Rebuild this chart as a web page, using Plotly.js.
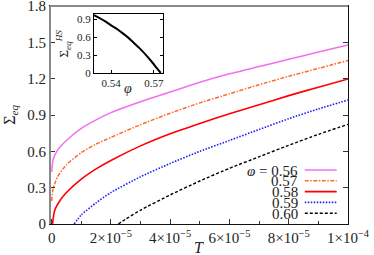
<!DOCTYPE html>
<html><head><meta charset="utf-8">
<script src="https://cdn.plot.ly/plotly-3.0.1.min.js"></script>
<style>html,body{margin:0;padding:0;background:#fff}#chart{width:374px;height:255px}</style>
</head><body><div id="chart"></div>
<script>
// ---- data ----
var phiLabels = ['<i>φ</i> = 0.56', '0.57', '0.58', '0.59', '0.60'];

var T056 = [0, 0.05e-5, 0.2e-5, 0.5e-5, 1e-5, 1.5e-5, 2e-5, 3e-5, 4e-5, 5e-5, 6e-5, 7e-5, 8e-5, 9e-5, 10e-5];
var S056 = [0.43, 0.53, 0.61, 0.69, 0.79, 0.86, 0.92, 1.01, 1.09, 1.17, 1.24, 1.30, 1.36, 1.42, 1.478];

var T057 = [0, 0.05e-5, 0.2e-5, 0.5e-5, 1e-5, 1.5e-5, 2e-5, 3e-5, 4e-5, 5e-5, 6e-5, 7e-5, 8e-5, 9e-5, 10e-5];
var S057 = [0.19, 0.29, 0.39, 0.49, 0.59, 0.66, 0.715, 0.82, 0.915, 1.00, 1.075, 1.15, 1.22, 1.285, 1.35];

var T058 = [0.03e-5, 0.1e-5, 0.3e-5, 0.5e-5, 1e-5, 1.5e-5, 2e-5, 3e-5, 4e-5, 5e-5, 6e-5, 7e-5, 8e-5, 9e-5, 10e-5];
var S058 = [0, 0.11, 0.20, 0.26, 0.37, 0.455, 0.525, 0.645, 0.745, 0.83, 0.91, 0.985, 1.06, 1.13, 1.197];

var T059 = [0.76e-5, 1e-5, 1.5e-5, 2e-5, 3e-5, 4e-5, 5e-5, 6e-5, 7e-5, 8e-5, 9e-5, 10e-5];
var S059 = [0, 0.075, 0.175, 0.26, 0.39, 0.50, 0.60, 0.69, 0.78, 0.87, 0.95, 1.024];

var T060 = [2.25e-5, 2.5e-5, 3e-5, 4e-5, 5e-5, 6e-5, 7e-5, 8e-5, 9e-5, 10e-5];
var S060 = [0, 0.04, 0.115, 0.24, 0.355, 0.46, 0.555, 0.65, 0.74, 0.823];

// inset: Sigma_eq^HS vs phi
var phiHS = [0.528, 0.532, 0.536, 0.540, 0.544, 0.548, 0.552, 0.556, 0.560, 0.564, 0.568, 0.572, 0.5747];
var sigHS = [0.965, 0.915, 0.86, 0.795, 0.735, 0.665, 0.59, 0.50, 0.41, 0.31, 0.20, 0.08, 0.0];

var xTickVals = [0, 2e-5, 4e-5, 6e-5, 8e-5, 1e-4];
var xTickText = ['0', '2×10<sup>−5</sup>', '4×10<sup>−5</sup>', '6×10<sup>−5</sup>', '8×10<sup>−5</sup>', '1×10<sup>−4</sup>'];
var yTickVals = [0, 0.3, 0.6, 0.9, 1.2, 1.5, 1.8];
var yTickText = ['0', '0.3', '0.6', '0.9', '1.2', '1.5', '1.8'];
var inXTickVals = [0.54, 0.57];
var inXTickText = ['0.54', '0.57'];
var inYTickVals = [0, 0.3, 0.6, 0.9];
var inYTickText = ['0', '0.3', '0.6', '0.9'];

// ---- styles ----
var colors = ['#f070f0', '#ff6a2a', '#ff0000', '#1a1aff', '#000000'];
var dashes = ['solid', '4px,1.5px,1.5px,1.5px', 'solid', '1.5px,1.5px', '3px,2px'];
var widths = [1.5, 1.5, 1.6, 1.6, 1.4];
var serif = "'Liberation Serif', 'Times New Roman', 'DejaVu Serif', serif";

var Ts = [T056, T057, T058, T059, T060];
var Ss = [S056, S057, S058, S059, S060];
var traces = [];
for (var i = 0; i < Ts.length; i++) {
  traces.push({x: Ts[i], y: Ss[i], type: 'scatter', mode: 'lines', xaxis: 'x', yaxis: 'y',
    line: {color: colors[i], dash: dashes[i], width: widths[i], shape: 'spline', smoothing: 0.6},
    showlegend: false, hoverinfo: 'skip'});
}
traces.push({x: phiHS, y: sigHS, type: 'scatter', mode: 'lines', xaxis: 'x2', yaxis: 'y2',
  line: {color: '#000', width: 2, shape: 'spline', smoothing: 0.6}, showlegend: false, hoverinfo: 'skip'});

// legend drawn manually (text left of line sample)
var legY = [0.2477, 0.1982, 0.1486, 0.0991, 0.0495];
var annotations = [], shapes = [];
for (var k = 0; k < phiLabels.length; k++) {
  annotations.push({xref: 'paper', yref: 'paper', x: 0.834, y: legY[k], xanchor: 'right', yanchor: 'middle',
    height: 11, borderpad: 0, valign: 'middle',
    text: phiLabels[k], showarrow: false, font: {family: serif, size: 15, color: '#222'}});
  shapes.push({type: 'line', xref: 'paper', yref: 'paper', x0: 0.855, x1: 0.962, y0: legY[k], y1: legY[k],
    line: {color: colors[k], width: widths[k], dash: dashes[k]}});
}
// axis titles placed as annotations
annotations.push({xref: 'paper', yref: 'paper', x: 0.5, y: -0.11, xanchor: 'center', yanchor: 'middle',
  height: 13, borderpad: 0, valign: 'middle',
  text: '<i>T</i>', showarrow: false, font: {family: serif, size: 16, color: '#222'}});
annotations.push({xref: 'paper', yref: 'paper', x: -0.135, y: 0.5, xanchor: 'center', yanchor: 'middle', textangle: -90,
  borderpad: 0,
  text: 'Σ<sub><i>eq</i></sub>', showarrow: false, font: {family: serif, size: 16, color: '#222'}});
annotations.push({xref: 'paper', yref: 'paper', x: 0.262, y: 0.62, xanchor: 'center', yanchor: 'middle',
  text: '<i>φ</i>', showarrow: false, font: {family: serif, size: 14, color: '#222'}});
annotations.push({xref: 'paper', yref: 'paper', x: 0.045, y: 0.83, xanchor: 'center', yanchor: 'middle', textangle: -90,
  text: 'Σ<sub><i>eq</i></sub><sup><i>HS</i></sup>', showarrow: false, font: {family: serif, size: 13, color: '#222'}});
// left and top frame lines appear grey in the reference
shapes.push({type: 'line', xref: 'paper', yref: 'paper', x0: 0, x1: 0, y0: 0, y1: 1, line: {color: '#8a8a8a', width: 2}});
shapes.push({type: 'line', xref: 'paper', yref: 'paper', x0: 0, x1: 1, y0: 1, y1: 1, line: {color: '#8a8a8a', width: 2}});

var layout = {
  width: 374, height: 255,
  margin: {l: 50, r: 26, t: 6, b: 31},
  paper_bgcolor: '#fff', plot_bgcolor: '#fff',
  font: {family: serif, color: '#222'},
  xaxis: {range: [-0.55e-6, 1e-4], domain: [0, 1], showgrid: false, zeroline: false,
    showline: true, linecolor: '#111', linewidth: 1, mirror: true, automargin: false,
    ticks: 'inside', ticklen: 5, tickcolor: '#333', tickvals: xTickVals, ticktext: xTickText,
    ticklabeloverflow: 'allow',
    minor: {ticks: 'inside', ticklen: 3, tickcolor: '#333', dtick: 1e-5, tick0: 1e-5, showgrid: false},
    tickfont: {family: serif, size: 15, color: '#222'}},
  yaxis: {range: [0, 1.8001], domain: [0, 1], showgrid: false, zeroline: false,
    showline: true, linecolor: '#111', linewidth: 1, mirror: 'ticks', automargin: false,
    ticks: 'inside', ticklen: 5, tickcolor: '#333', tickvals: yTickVals, ticktext: yTickText,
    ticklabeloverflow: 'allow',
    tickfont: {family: serif, size: 15, color: '#222'}},
  xaxis2: {anchor: 'y2', domain: [0.1477, 0.3792], range: [0.5281, 0.5763], showgrid: false, zeroline: false,
    showline: true, linecolor: '#000', linewidth: 1, mirror: true,
    ticks: 'inside', ticklen: 3, tickcolor: '#000', tickvals: inXTickVals, ticktext: inXTickText,
    tickfont: {family: serif, size: 11, color: '#222'}},
  yaxis2: {anchor: 'x2', domain: [0.6927, 0.9633], range: [0, 0.984], showgrid: false, zeroline: false,
    showline: true, linecolor: '#000', linewidth: 1, mirror: 'ticks',
    ticks: 'inside', ticklen: 3, tickcolor: '#000', tickvals: inYTickVals, ticktext: inYTickText,
    tickfont: {family: serif, size: 11, color: '#222'}},
  annotations: annotations,
  shapes: shapes,
  showlegend: false
};
Plotly.newPlot('chart', traces, layout, {staticPlot: true, displayModeBar: false});
</script></body></html>
